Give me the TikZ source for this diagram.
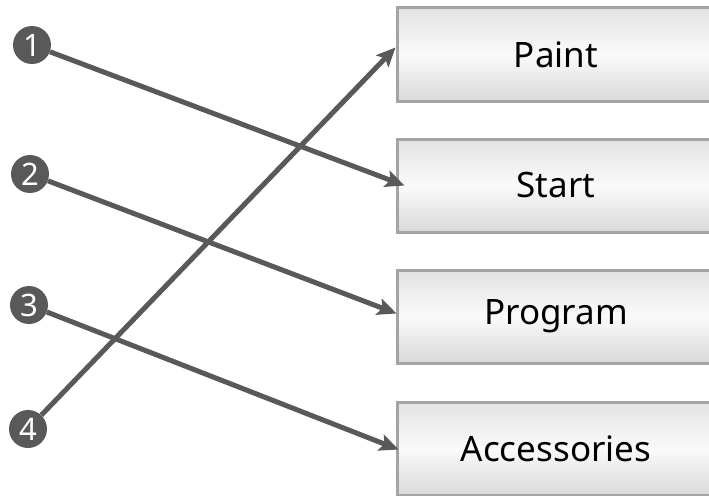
\documentclass[tikz,border=0pt]{standalone}
\usepackage{fontspec}
\setmainfont{Noto Sans}
\usetikzlibrary{arrows.meta}
\definecolor{ink}{HTML}{595959}
\definecolor{frame}{HTML}{A4A4A4}
\definecolor{shadetop}{HTML}{E3E3E3}
\definecolor{shademid}{HTML}{FAFAFA}
\definecolor{shadebot}{HTML}{D9D9D9}
\begin{document}
\begin{tikzpicture}[x=1pt,y=-1pt,
  menubox/.style={draw=frame, line width=3pt, shading=axis,
    top color=shadetop, bottom color=shadebot, middle color=shademid,
    minimum width=318pt, minimum height=93pt, inner sep=0pt,
    font=\fontsize{35}{35}\selectfont},
  badge/.style={circle, fill=ink, text=white, minimum size=38pt, inner sep=0pt,
    font=\fontsize{31}{31}\selectfont},
  link/.style={draw=ink, line width=5pt, -{Stealth[length=19pt,width=17pt,inset=4pt]}}]
\useasboundingbox (0,0) rectangle (709,495);
% menu entries
\node[menubox] (paint)   at (556,54.5)  {Paint};
\node[menubox] (start)   at (556,185.5) {Start};
\node[menubox] (program) at (556,316.5) {Program};
\node[menubox] (access)  at (556,448.5) {Accessories};
% numbered markers
\node[badge] (n1) at (32,45)  {1};
\node[badge] (n2) at (30,174) {2};
\node[badge] (n3) at (29,305) {3};
\node[badge] (n4) at (28,429) {4};
% connectors
\draw[link] (n1) -- ([xshift=9pt]start.west);
\draw[link] (n2) -- ([xshift=1pt,yshift=3pt]program.west);
\draw[link] (n3) -- ([xshift=3pt,yshift=-1pt]access.west);
\draw[link] (n4) -- ([yshift=7pt]paint.west);
\end{tikzpicture}
\end{document}
